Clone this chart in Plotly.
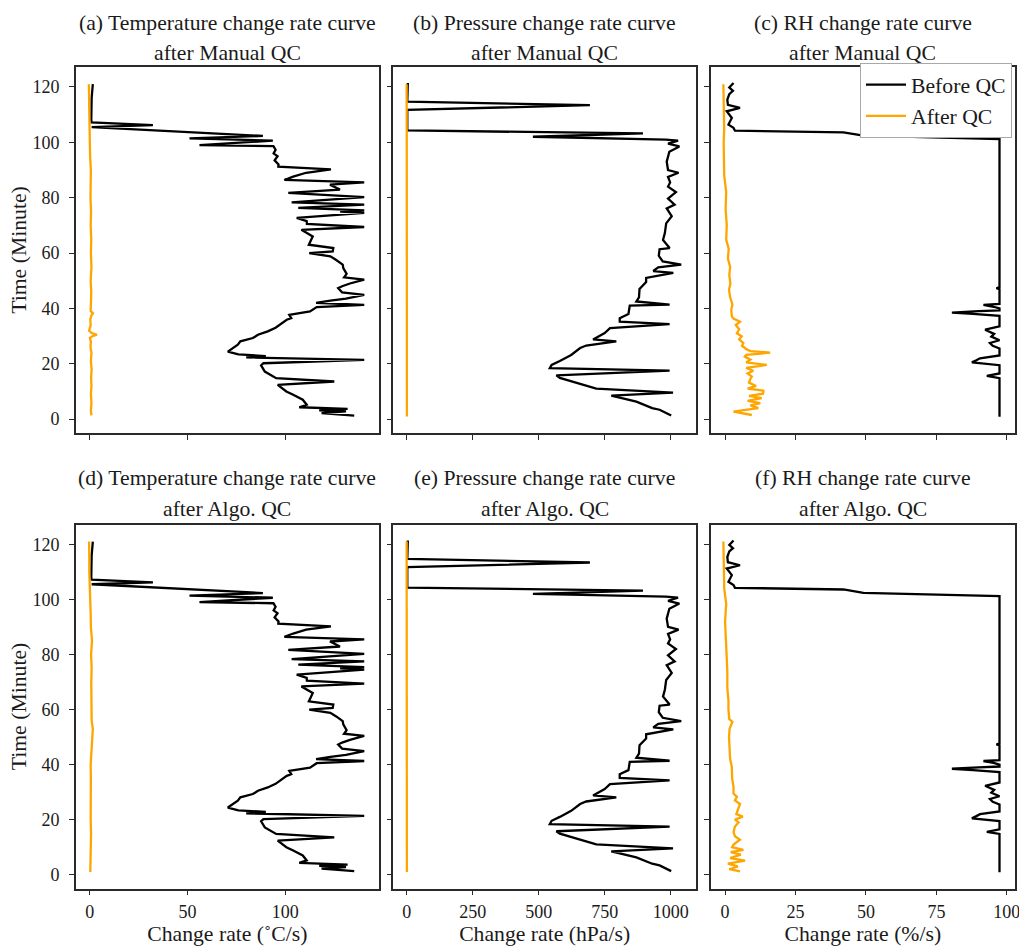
import plotly.graph_objects as go

# ---------------- data ----------------
# Temperature change rate, before QC (same raw series in both rows)
temp_before_t = [1.3, 2.2, 2.8, 3.2, 3.7, 4.3, 5.2, 7.0, 8.8, 10.0, 12.4, 13.6, 14.8, 17.2, 19.4, 20.2,
                 21.4, 22.3, 22.8, 23.4, 24.4, 25.0, 26.9, 28.1, 29.3, 30.5, 31.7, 33.0, 34.1, 35.9, 36.5,
                 37.7, 38.9, 40.5, 41.3, 42.0, 42.8, 43.5, 44.9, 45.8, 47.3, 48.0, 49.0, 50.4, 51.2, 52.5,
                 54.6, 55.8, 57.5, 58.8, 60.0, 60.6, 61.8, 63.0, 64.5, 66.0, 68.4, 69.4, 70.5, 71.5, 72.7,
                 74.5, 75.0, 75.4, 76.3, 77.5, 78.3, 80.2, 81.7, 82.9, 84.7, 85.5, 86.4, 87.6, 89.0, 90.2,
                 91.2, 92.0, 93.5, 95.0, 96.0, 97.3, 98.6, 99.0, 100.6, 101.4, 102.3, 105.5, 106.2, 107.2,
                 108.0, 112.0, 116.0, 121.0]
temp_before_v = [135.2, 118.5, 131.0, 117.3, 131.8, 107.1, 110.9, 108.9, 104.0, 100.5, 96.1, 125.0, 95.3,
                 89.5, 87.6, 88.8, 140.3, 80.0, 90.0, 76.0, 70.6, 72.0, 75.7, 77.0, 83.4, 86.0, 91.0, 95.0,
                 97.0, 100.7, 103.0, 102.0, 112.6, 116.0, 140.3, 115.7, 123.0, 131.0, 140.3, 129.0, 127.0,
                 129.0, 133.0, 140.3, 130.0, 131.3, 129.6, 129.3, 126.0, 123.0, 112.2, 124.2, 124.5, 112.0,
                 113.0, 114.0, 108.2, 140.3, 111.0, 110.9, 105.8, 140.3, 128.0, 140.3, 106.6, 140.3, 103.2,
                 140.3, 101.5, 127.9, 122.8, 140.3, 99.5, 104.0, 110.6, 123.3, 96.4, 96.5, 94.5, 96.0, 94.0,
                 95.0, 93.9, 56.1, 93.6, 51.0, 88.5, 1.0, 32.3, 1.0, 0.8, 0.9, 1.0, 1.6]

# Temperature, after Manual QC
temp_manual_t = [1.4, 3, 6, 9, 12, 15, 18, 21, 24, 26, 28, 29.3, 30.0, 30.5, 31.2, 32, 34, 36, 37.5, 38.3,
                 39, 42, 46, 50, 55, 60, 65, 70, 75, 80, 85, 90, 95, 100, 105, 110, 115, 121]
temp_manual_v = [0.9, 0.6, 0.9, 0.6, 0.9, 0.7, 1.0, 0.6, 0.9, 0.4, 0.6, 0.1, 1.5, 3.7, 0.8, -0.3, 0.5, 0.3,
                 0.9, 1.7, 0.5, 0.6, 0.8, 0.5, 0.9, 0.6, 0.8, 0.5, 0.7, 0.4, 0.6, 0.6, 0.2, 0.0, -0.2, -0.3,
                 -0.3, -0.4]

# Temperature, after Algo. QC
temp_algo_t = [1.0, 5, 10, 15, 20, 25, 30, 35, 40, 45, 50, 53, 56, 60, 65, 70, 75, 80, 85, 90, 95, 100,
               105, 110, 115, 121]
temp_algo_v = [0.3, 0.5, 0.4, 0.7, 0.5, 0.6, 0.4, 0.6, 0.5, 0.8, 1.2, 1.6, 1.0, 0.9, 0.7, 0.8, 1.0, 0.7,
               1.2, 0.6, 0.5, 0.2, 0.0, -0.2, -0.2, -0.3]

# Pressure change rate, before QC
pres_before_t = [1.3, 3.4, 4.0, 6.3, 8.5, 9.6, 11.0, 13.6, 14.9, 15.8, 17.5, 18.4, 19.6, 21.0, 23.2, 25.7,
                 26.6, 28.1, 28.8, 31.1, 32.9, 34.3, 35.2, 36.5, 38.0, 41.0, 41.4, 42.5, 44.0, 47.0, 49.5,
                 51.0, 52.8, 53.5, 54.8, 55.8, 57.0, 59.0, 61.4, 61.8, 64.7, 67.2, 70.7, 73.3, 76.1, 77.5,
                 79.7, 82.0, 84.0, 85.5, 87.5, 89.0, 90.0, 93.0, 96.6, 98.5, 99.5, 100.6, 101.0, 102.0,
                 103.2, 104.3, 111.7, 113.4, 114.7, 121.4]
pres_before_v = [1002, 958, 930, 870, 775, 1009, 718, 631, 580, 567, 996, 542, 549, 580, 623, 657, 680,
                 794, 706, 750, 770, 996, 807, 807, 840, 845, 996, 870, 880, 882, 907, 907, 1010, 934, 953,
                 1040, 970, 955, 958, 996, 971, 978, 983, 1004, 985, 1015, 990, 1020, 990, 998, 990, 1030,
                 990, 985, 995, 1033, 990, 1028, 982, 478, 895, 2, 2, 694, 2, 4]

# Pressure, after QC (manual and algorithm)
pres_manual_t = [1, 20, 40, 60, 80, 100, 121]
pres_manual_v = [0.5, 0.8, 0.5, 0.3, 0.2, 0.0, -0.5]
pres_algo_t = [1, 20, 40, 60, 80, 100, 121]
pres_algo_v = [0.5, 0.6, 0.4, 0.3, 0.2, 0.0, -0.4]

# RH change rate, before QC
rh_before_t = [0.9, 14.8, 15.6, 16.5, 19.5, 20.5, 21.2, 22.0, 23.0, 25.5, 26.5, 27.5, 28.5, 29.8, 30.8,
               32.3, 33.5, 37.3, 38.0, 38.5, 39.0, 39.3, 40.0, 40.6, 41.3, 41.6, 47.0, 47.3, 47.7, 101.2,
               102.4, 103.6, 104.2, 105.2, 106.4, 108.8, 111.2, 112.4, 113.5, 115.4, 117.4, 118.6, 119.8,
               121.4]
rh_before_v = [97.4, 97.4, 92.9, 97.4, 97.4, 87.6, 89.0, 90.5, 97.4, 97.4, 95.0, 94.0, 97.4, 94.5, 95.5,
               92.3, 97.4, 97.4, 88.0, 80.5, 90.0, 97.4, 97.4, 95.3, 91.7, 97.4, 97.4, 96.3, 97.4, 97.4,
               49.1, 42.0, 3.5, 3.0, 1.2, 2.4, 0.6, 5.3, 1.0, 0.8, 1.5, 2.8, 1.5, 3.0]

# RH, after Manual QC
rh_manual_t = [1.5, 2.7, 3.2, 4.0, 5.0, 5.8, 6.6, 7.6, 8.4, 9.2, 10.3, 11.0, 12.0, 13.2, 14.6, 15.4, 16.5,
               17.5, 18.5, 19.6, 20.5, 21.5, 22.6, 23.2, 24.0, 24.6, 25.2, 26.5, 27.5, 28.8, 29.9, 31.0,
               32.5, 34.0, 35.2, 36.3, 37.1, 39.5, 41.5, 44.0, 46.7, 49.0, 52.0, 55.0, 58.0, 61.5, 64.8,
               70, 76, 82, 88, 95, 100, 105, 110, 115, 121]
rh_manual_v = [9.5, 3.0, 6.0, 11.8, 9.0, 12.5, 8.0, 13.0, 8.5, 13.5, 13.6, 8.0, 11.0, 8.5, 9.0, 9.5, 8.0,
               10.0, 7.5, 14.8, 7.5, 9.0, 7.0, 7.5, 16.0, 9.0, 7.7, 6.0, 6.5, 5.0, 5.9, 4.2, 5.0, 3.8, 5.3,
               3.0, 2.4, 2.2, 2.6, 1.8, 1.4, 1.9, 1.5, 1.8, 1.0, 1.3, 0.4, 0.6, 0.2, 0.4, -0.3, -0.4, -0.5,
               -0.3, -0.5, -0.5, -0.6]

# RH, after Algo. QC
rh_algo_t = [1.2, 2.0, 3.0, 4.0, 5.1, 6.0, 7.3, 8.2, 9.0, 10.0, 11.0, 12.7, 14.0, 15.5, 17.5, 19.0, 20.0,
             21.1, 22.0, 23.5, 25.7, 27.0, 28.3, 29.5, 32.0, 35.0, 39.2, 42, 46, 50, 53, 55.5, 56.5, 60,
             63.3, 68, 74, 80, 86, 92, 98.4, 104, 110, 116, 121]
rh_algo_v = [5.3, 1.5, 4.5, 1.0, 7.1, 1.8, 5.6, 2.0, 6.5, 2.5, 3.0, 5.3, 3.5, 3.0, 3.5, 4.8, 3.5, 6.3, 4.0,
             4.5, 5.3, 3.5, 4.2, 3.0, 3.0, 2.5, 2.4, 1.8, 1.5, 1.4, 1.6, 2.6, 1.5, 1.2, 1.2, 0.8, 0.8, 0.5,
             0.3, 0.0, 0.4, -0.3, -0.4, -0.6, -0.6]

titles_line1 = ["(a) Temperature change rate curve", "(b) Pressure change rate curve",
                "(c) RH change rate curve", "(d) Temperature change rate curve",
                "(e) Pressure change rate curve", "(f) RH change rate curve"]
titles_line2 = ["after Manual QC", "after Manual QC", "after Manual QC",
                "after Algo. QC", "after Algo. QC", "after Algo. QC"]
x_titles = ["Change rate (˚C/s)", "Change rate (hPa/s)", "Change rate (%/s)"]
y_title = "Time (Minute)"
x_tickvals = [[0, 50, 100], [0, 250, 500, 750, 1000], [0, 25, 50, 75, 100]]
y_tickvals = [0, 20, 40, 60, 80, 100, 120]
legend_names = ["Before QC", "After QC"]

# ---------------- layout geometry ----------------
W, H = 1019, 948
FONT = "Liberation Serif, Times New Roman, serif"
TXT = "#1a1a1a"
col_px = [(76, 378.7), (393.3, 696), (710.7, 1015)]
row_px = [(67, 433), (524.5, 888.5)]
x_ranges = [[-7.0, 147.7], [-51, 1096], [-5.1, 102.9]]
y_range = [-5.0, 127.2]
BLACK = "#000000"
ORANGE = "#FFA500"

before_series = [(temp_before_t, temp_before_v), (pres_before_t, pres_before_v), (rh_before_t, rh_before_v)]
after_series = [
    [(temp_manual_t, temp_manual_v), (pres_manual_t, pres_manual_v), (rh_manual_t, rh_manual_v)],
    [(temp_algo_t, temp_algo_v), (pres_algo_t, pres_algo_v), (rh_algo_t, rh_algo_v)],
]

fig = go.Figure()
layout = dict(
    width=W, height=H,
    margin=dict(l=0, r=0, t=0, b=0),
    paper_bgcolor="white", plot_bgcolor="white",
    font=dict(family=FONT, size=21.7, color=TXT),
    showlegend=True,
    legend=dict(x=1012 / W, xanchor="right", y=1 - 63 / H, yanchor="top",
                bgcolor="white", bordercolor="#a8a8a8", borderwidth=1,
                font=dict(family=FONT, size=21.7, color=TXT),
                itemwidth=40, tracegroupgap=0),
)
annotations = []

for i in range(6):
    r, c = divmod(i, 3)
    sfx = "" if i == 0 else str(i + 1)
    xa, ya = "x" + sfx, "y" + sfx
    bt, bv = before_series[c]
    at, av = after_series[r][c]
    fig.add_trace(go.Scatter(x=bv, y=bt, mode="lines", name=legend_names[0],
                             line=dict(color=BLACK, width=2.3), xaxis=xa, yaxis=ya,
                             showlegend=(i == 2), legendrank=1))
    fig.add_trace(go.Scatter(x=av, y=at, mode="lines", name=legend_names[1],
                             line=dict(color=ORANGE, width=2.3), xaxis=xa, yaxis=ya,
                             showlegend=(i == 2), legendrank=2))
    x0, x1 = col_px[c]
    y0, y1 = row_px[r]
    common = dict(showline=True, mirror=True, linecolor="#2a2a2a", linewidth=1.6,
                  ticks="outside", ticklen=5, tickwidth=1.3, tickcolor="#2a2a2a",
                  showgrid=False, zeroline=False, automargin=False,
                  ticklabeloverflow="allow",
                  tickfont=dict(family=FONT, size=18, color=TXT))
    xaxis = dict(common, domain=[x0 / W, x1 / W], range=x_ranges[c], anchor=ya,
                 tickmode="array", tickvals=x_tickvals[c], showticklabels=(r == 1),
                 ticklabelstandoff=1)
    if r == 1:
        xaxis["title"] = dict(text=x_titles[c], font=dict(family=FONT, size=21.7, color=TXT), standoff=0)
    yaxis = dict(common, domain=[1 - y1 / H, 1 - y0 / H], range=y_range, anchor=xa,
                 tickmode="array", tickvals=y_tickvals, showticklabels=(c == 0),
                 ticklabelstandoff=6)
    if c == 0:
        yaxis["title"] = dict(text=y_title, font=dict(family=FONT, size=21.7, color=TXT), standoff=0)
    layout["xaxis" + sfx] = xaxis
    layout["yaxis" + sfx] = yaxis

    cx = (x0 + x1) / 2 / W
    ly1 = [23, 478][r]
    ly2 = [53, 509][r]
    annotations.append(dict(text=titles_line1[i], x=cx, y=1 - ly1 / H, xref="paper", yref="paper",
                            xanchor="center", yanchor="middle", showarrow=False,
                            font=dict(family=FONT, size=21.7, color=TXT)))
    annotations.append(dict(text=titles_line2[i], x=cx, y=1 - ly2 / H, xref="paper", yref="paper",
                            xanchor="center", yanchor="middle", showarrow=False,
                            font=dict(family=FONT, size=21.7, color=TXT)))

layout["annotations"] = annotations
fig.update_layout(**layout)
fig.write_html("out.html")
